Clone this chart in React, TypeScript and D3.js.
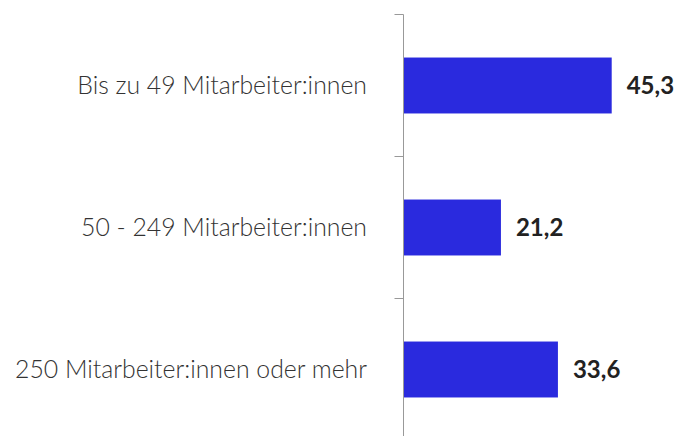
import React, { useEffect, useRef } from 'react';
import * as d3 from 'd3';

const categories = [
  'Bis zu 49 Mitarbeiter:innen',
  '50 - 249 Mitarbeiter:innen',
  '250 Mitarbeiter:innen oder mehr',
];
const values = [45.3, 21.2, 33.6];

const App = () => {
  const ref = useRef<SVGSVGElement>(null);

  useEffect(() => {
    const width = 679;
    const height = 436;
    const axisX = 403.5;

    const svg = d3.select(ref.current)
      .attr('width', width)
      .attr('height', height);

    svg.selectAll('*').remove();

    const y = d3.scaleBand()
      .domain(categories)
      .range([14.5, 440.5])
      .paddingInner(0.606)
      .paddingOuter(0.303);

    // 45.3 ends at about x=611.7
    const x = d3.scaleLinear()
      .domain([0, 45.3])
      .range([axisX, 611.7]);

    const step = y.step();

    // bars
    svg.selectAll('.bar')
      .data(values)
      .enter()
      .append('rect')
      .attr('class', 'bar')
      .attr('x', x(0))
      .attr('y', (d, i) => y(categories[i]))
      .attr('width', d => x(d) - x(0))
      .attr('height', y.bandwidth())
      .attr('fill', '#2a2ade');

    // axis line + ticks at band boundaries
    svg.append('line')
      .attr('x1', axisX).attr('x2', axisX)
      .attr('y1', 14.5).attr('y2', height)
      .attr('stroke', '#999')
      .attr('stroke-width', 1);

    svg.selectAll('.tick')
      .data(categories)
      .enter()
      .append('line')
      .attr('class', 'tick')
      .attr('x1', axisX - 9).attr('x2', axisX)
      .attr('y1', d => y(d) - step * y.paddingInner() / 2)
      .attr('y2', d => y(d) - step * y.paddingInner() / 2)
      .attr('stroke', '#999')
      .attr('stroke-width', 1);

    // category labels
    svg.selectAll('.label')
      .data(categories)
      .enter()
      .append('text')
      .attr('class', 'label')
      .attr('x', 367)
      .attr('y', d => y(d) + y.bandwidth() / 2)
      .attr('dy', '0.35em')
      .attr('text-anchor', 'end')
      .style('font-family', 'Lato')
      .style('font-weight', 300)
      .style('font-size', '24.8px')
      .style('fill', '#333')
      .text(d => d);

    // value labels
    svg.selectAll('.value')
      .data(values)
      .enter()
      .append('text')
      .attr('class', 'value')
      .attr('x', d => x(d) + 15)
      .attr('y', (d, i) => y(categories[i]) + y.bandwidth() / 2)
      .attr('dy', '0.35em')
      .style('font-family', 'Lato')
      .style('font-weight', 'bold')
      .style('font-size', '24px')
      .style('fill', '#222')
      .text(d => d3.format('.1f')(d).replace('.', ','));
  }, []);

  return <svg ref={ref} style={{ position: 'absolute', left: 0, top: 0 }} />;
};

export default App;
